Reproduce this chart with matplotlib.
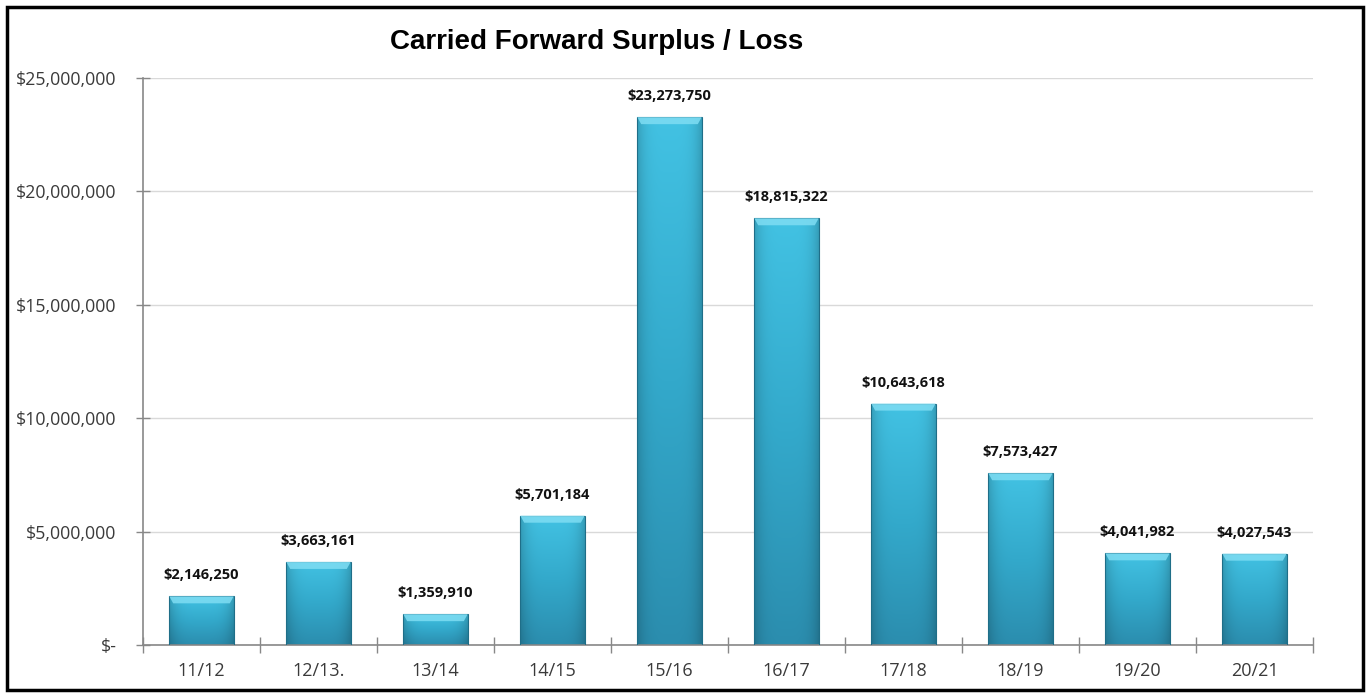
import matplotlib.pyplot as plt
import numpy as np
from matplotlib.colors import LinearSegmentedColormap
from matplotlib.patches import Rectangle, Polygon
from matplotlib.ticker import FuncFormatter, FixedLocator

years = ['11/12', '12/13.', '13/14', '14/15', '15/16', '16/17', '17/18', '18/19', '19/20', '20/21']
surplus = [2146250, 3663161, 1359910, 5701184, 23273750, 18815322, 10643618, 7573427, 4041982, 4027543]

fig = plt.figure(figsize=(13.7, 6.97), dpi=100)
ax = fig.add_axes([143/1370, 52/697, 1170/1370, 567/697])

x = np.arange(len(years))
width = 0.55
ax.set_xlim(-0.5, len(years) - 0.5)
ax.set_ylim(0, 25000000)

# gradient fill for the bars: light cyan on top fading to teal
body = LinearSegmentedColormap.from_list('body', ['#2B8DAE', '#33A9CB', '#42C2E3'])
side = np.linspace(0, 1, 60)
shade = 1 - 0.18 * (np.abs(side - 0.5) * 2) ** 4
px_per_y = 567 / 25000000

bars = ax.bar(x, surplus, width, color='none', edgecolor='#1F6E88', linewidth=0.8, zorder=3)
for b, v in zip(bars, surplus):
    x0 = b.get_x()
    vert = np.linspace(0, 1, 200)[:, None]
    img = body(vert)[:, :, :3] * shade[None, :, None]
    im = ax.imshow(img, extent=(x0, x0 + width, 0, v), origin='lower',
                   aspect='auto', zorder=2, interpolation='bilinear')
    im.set_clip_path(b)
    # bevel along the top edge
    bev = 7 / px_per_y
    inset = width * 0.06
    top = Polygon([(x0, v), (x0 + width, v), (x0 + width - inset, v - bev), (x0 + inset, v - bev)],
                  closed=True, facecolor='#7FDDF3', edgecolor='none', zorder=3, alpha=0.85)
    ax.add_patch(top)
    ax.text(x0 + width / 2, v + 14 / px_per_y, '${:,.0f}'.format(v), ha='center', va='bottom',
            fontsize=10.5, fontweight='bold', family='Open Sans', color='#111111', zorder=4)

ax.set_xticks(x)
ax.set_xticklabels(years)
ax.xaxis.set_minor_locator(FixedLocator(np.arange(-0.5, len(years), 1)))
ax.tick_params(axis='x', which='major', length=0, pad=12, labelsize=13, labelcolor='#3A3A3A')
ax.tick_params(axis='x', which='minor', direction='inout', length=12, color='#888888', width=1)

ax.set_yticks(np.arange(0, 25000001, 5000000))
ax.yaxis.set_major_formatter(FuncFormatter(lambda v, p: '$-' if v == 0 else '${:,.0f}'.format(v)))
ax.tick_params(axis='y', direction='inout', length=10, color='#888888', width=1, pad=14,
               labelsize=12.8, labelcolor='#3A3A3A')
for lab in ax.get_xticklabels() + ax.get_yticklabels():
    lab.set_family('Open Sans')

ax.grid(axis='y', color='#D9D9D9', linewidth=1, zorder=0)
ax.set_axisbelow(True)
for s in ['top', 'right']:
    ax.spines[s].set_visible(False)
for s in ['left', 'bottom']:
    ax.spines[s].set_color('#888888')
    ax.spines[s].set_linewidth(1.2)

fig.text(597/1370, 1 - 42/697, 'Carried Forward Surplus / Loss', ha='center', va='center',
         fontsize=20, fontweight='bold', family='Liberation Sans')

fig.patches.append(Rectangle((7/1370, 7/697), 1356/1370, 683/697, transform=fig.transFigure,
                             fill=False, edgecolor='black', linewidth=2.5))

fig.savefig('out.png', dpi=100)
